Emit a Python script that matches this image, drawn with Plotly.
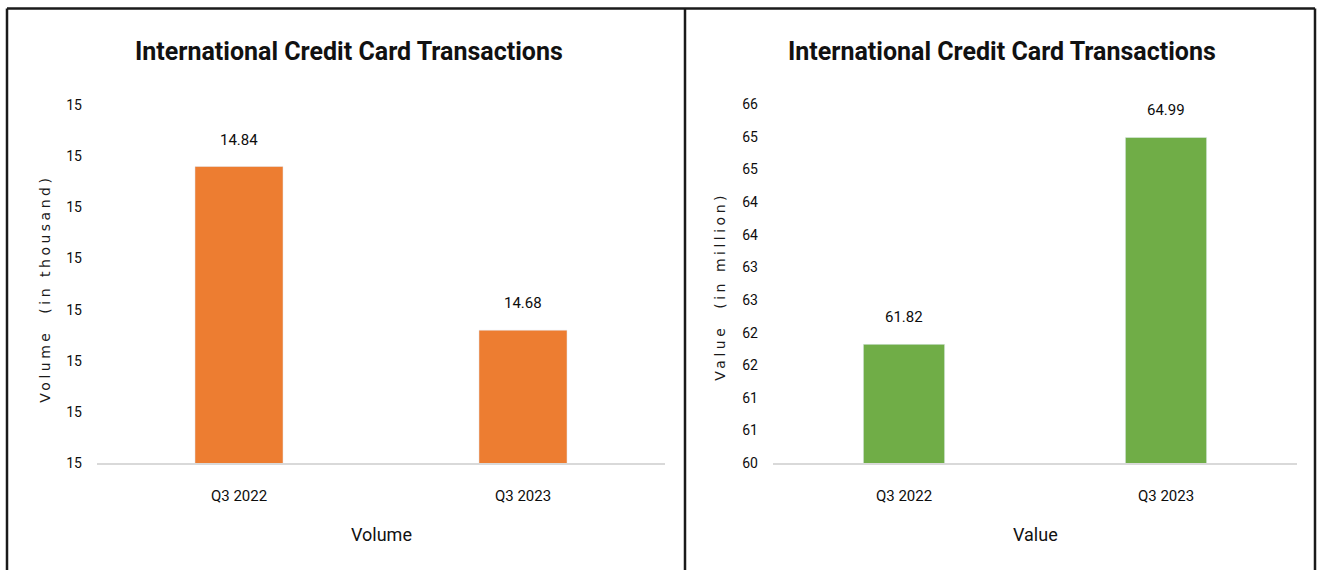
import plotly.graph_objects as go

W, H = 1318, 578

# ---- data ----
categories = ["Q3 2022", "Q3 2023"]
volume_values = [14.84, 14.68]          # in thousand
value_values = [61.82, 64.99]           # in million
volume_labels = ["14.84", "14.68"]
value_labels = ["61.82", "64.99"]

volume_tickvals = [14.55, 14.60, 14.65, 14.70, 14.75, 14.80, 14.85, 14.90]
volume_ticktext = ["15", "15", "15", "15", "15", "15", "15", "15"]
value_tickvals = [60, 60.5, 61, 61.5, 62, 62.5, 63, 63.5, 64, 64.5, 65, 65.5]
value_ticktext = ["60", "61", "61", "62", "62", "63", "63", "64", "64", "65", "65", "66"]

title_text = "International Credit Card Transactions"
ORANGE = "#ED7D31"
GREEN = "#70AD47"
FONT = "Roboto, Open Sans, sans-serif"
TXT = "#0d0d0d"


def px(x):
    return x / W


def py(y):
    # compensate for the capture's vertical mapping
    yd = (y - 6.6) / 0.975
    return min(max(1 - yd / H, 0.0), 0.999)


fig = go.Figure()
fig.add_trace(go.Bar(x=categories, y=volume_values, marker_color=ORANGE,
                     xaxis="x", yaxis="y", showlegend=False, hoverinfo="x+y"))
fig.add_trace(go.Bar(x=categories, y=value_values, marker_color=GREEN,
                     xaxis="x2", yaxis="y2", showlegend=False, hoverinfo="x+y"))

common_x = dict(type="category", showline=True, linecolor="#d9d9d9", linewidth=1.5,
                showgrid=False, zeroline=False, ticks="",
                tickfont=dict(family=FONT, size=15, color=TXT),
                ticklabelstandoff=18)
common_y = dict(showgrid=False, zeroline=False, showline=False, ticks="",
                tickfont=dict(family=FONT, size=14, color=TXT),
                ticklabelstandoff=14)

fig.update_layout(
    width=W, height=H,
    margin=dict(l=0, r=0, t=0, b=0),
    paper_bgcolor="white", plot_bgcolor="white",
    bargap=0.69,
    xaxis=dict(domain=[px(97), px(665)], anchor="y", **common_x),
    yaxis=dict(domain=[py(463), py(104)], anchor="x", range=[14.55, 14.90],
               tickmode="array", tickvals=volume_tickvals, ticktext=volume_ticktext,
               **common_y),
    xaxis2=dict(domain=[px(773), px(1297)], anchor="y2", **common_x),
    yaxis2=dict(domain=[py(463), py(103)], anchor="x2", range=[60, 65.5],
                tickmode="array", tickvals=value_tickvals, ticktext=value_ticktext,
                **common_y),
)

annotations = []
# data labels
for cat, v, lab in zip(categories, volume_values, volume_labels):
    annotations.append(dict(x=cat, y=v, xref="x", yref="y", text=lab, showarrow=False,
                            xanchor="center", yanchor="middle",
                            yshift=27, font=dict(family=FONT, size=15, color=TXT)))
for cat, v, lab in zip(categories, value_values, value_labels):
    annotations.append(dict(x=cat, y=v, xref="x2", yref="y2", text=lab, showarrow=False,
                            xanchor="center", yanchor="middle",
                            yshift=27, font=dict(family=FONT, size=15, color=TXT)))

# titles
for cx in (349, 1002):
    annotations.append(dict(x=px(cx), y=py(50), xref="paper", yref="paper",
                            xanchor="center", yanchor="middle",
                            text="<b>" + title_text + "</b>", showarrow=False,
                            font=dict(family=FONT, size=25, color="#111")))
# x axis titles
annotations.append(dict(x=px(381), y=py(535), xref="paper", yref="paper", text="Volume",
                        xanchor="center", yanchor="middle",
                        showarrow=False, font=dict(family=FONT, size=18, color="#111")))
annotations.append(dict(x=px(1035), y=py(535), xref="paper", yref="paper", text="Value",
                        xanchor="center", yanchor="middle",
                        showarrow=False, font=dict(family=FONT, size=18, color="#111")))
# y axis titles
annotations.append(dict(x=px(45), y=py(288), xref="paper", yref="paper",
                        xanchor="center", yanchor="middle",
                        text='<span style="letter-spacing:3.5px">Volume  (in thousand)</span>',
                        textangle=-90, showarrow=False,
                        font=dict(family="DejaVu Sans, sans-serif", size=14, color="#1a1a1a")))
annotations.append(dict(x=px(720), y=py(285), xref="paper", yref="paper",
                        xanchor="center", yanchor="middle",
                        text='<span style="letter-spacing:3.5px">Value  (in million)</span>',
                        textangle=-90, showarrow=False,
                        font=dict(family="DejaVu Sans, sans-serif", size=14, color="#1a1a1a")))
fig.update_layout(annotations=annotations)

# panel borders
line = dict(color="#1a1a1a", width=2.5)
shapes = [
    dict(type="line", xref="paper", yref="paper", x0=px(7), x1=px(7), y0=0, y1=py(4), line=line),
    dict(type="line", xref="paper", yref="paper", x0=px(7), x1=px(685), y0=py(4), y1=py(4), line=line),
    dict(type="line", xref="paper", yref="paper", x0=px(685), x1=px(685), y0=0, y1=py(4), line=line),
    dict(type="line", xref="paper", yref="paper", x0=px(685), x1=px(1315), y0=py(6), y1=py(6), line=line),
    dict(type="line", xref="paper", yref="paper", x0=px(1315), x1=px(1315), y0=0, y1=py(6), line=line),
]
fig.update_layout(shapes=shapes)

fig.write_html(
    "out.html",
    config={"displayModeBar": False},
    post_script="document.body.style.margin='0';document.body.style.overflow='hidden';",
)
